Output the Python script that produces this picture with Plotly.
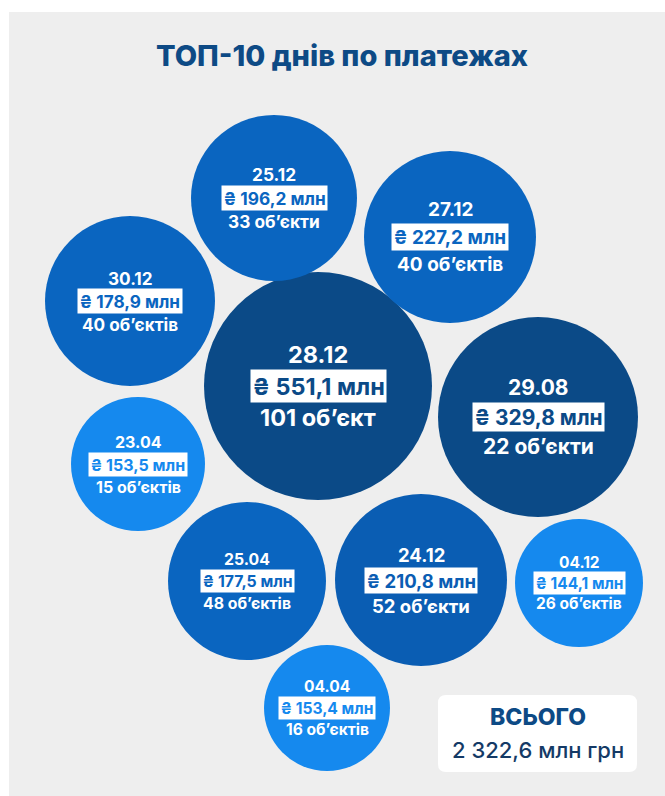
import plotly.graph_objects as go

# ---- data ----
dates = ["28.12", "29.08", "27.12", "25.12", "24.12", "30.12", "25.04", "23.04", "04.04", "04.12"]
amounts = [551.1, 329.8, 227.2, 196.2, 210.8, 178.9, 177.5, 153.5, 153.4, 144.1]
objects = [101, 22, 40, 33, 52, 40, 48, 15, 16, 26]
total_amount = 2322.6
title_text = "ТОП-10 днів по платежах"

# ---- layout of the packed bubbles (pixel-like units) ----
cx = [318, 538, 450, 274, 421, 130, 247, 138, 327, 579]
cy = [386, 417, 237, 198, 580, 301, 581, 464, 708, 583]
radius = [114, 100, 86, 83, 86, 85, 79, 67, 63, 64]
fsize = [23.5, 21, 19, 17.3, 18.5, 17.2, 15.8, 16, 15.6, 15.5]
gaps = [31.5, 29.5, 27.5, 23.5, 25.5, 23, 22, 22.5, 21.5, 20.5]
DARK, MID, MID2, LIGHT = "#0b4a87", "#0a65c0", "#0a5db3", "#1589ee"
colors = [DARK, DARK, MID, MID, MID2, MID, MID, LIGHT, LIGHT, LIGHT]

W, H = 665, 796
FONT = "Inter"
NAVY = "#0d4a85"


def obj_word(n):
    if n % 10 == 1 and n % 100 != 11:
        return "об’єкт"
    if n % 10 in (2, 3, 4) and n % 100 not in (12, 13, 14):
        return "об’єкти"
    return "об’єктів"


def fmt(v):
    return f"{v:.1f}".replace(".", ",")


fig = go.Figure()
fig.add_trace(go.Scatter(
    x=cx, y=cy, mode="markers",
    marker=dict(size=[2 * r for r in radius], sizemode="diameter",
                color=colors, opacity=1, line=dict(width=0)),
    hoverinfo="skip", showlegend=False,
))

annotations = []
for d, a, n, x, y, fs, gap, c in zip(dates, amounts, objects, cx, cy, fsize, gaps, colors):
    annotations.append(dict(x=x, y=y - gap, text=d, showarrow=False,
                            font=dict(family=FONT, size=fs, color="white", weight=700),
                            xanchor="center", yanchor="middle"))
    annotations.append(dict(x=x, y=y, text=f"₴ {fmt(a)} млн", showarrow=False,
                            font=dict(family=FONT, size=fs, color=c, weight=700),
                            bgcolor="white", borderpad=1.5,
                            xanchor="center", yanchor="middle"))
    annotations.append(dict(x=x, y=y + gap, text=f"{n} {obj_word(n)}", showarrow=False,
                            font=dict(family=FONT, size=fs, color="white", weight=700),
                            xanchor="center", yanchor="middle"))

# total box
bx0, bx1, by0, by1, rr = 438, 637, 695, 772, 8
path = (f"M {bx0+rr},{by0} L {bx1-rr},{by0} Q {bx1},{by0} {bx1},{by0+rr} "
        f"L {bx1},{by1-rr} Q {bx1},{by1} {bx1-rr},{by1} L {bx0+rr},{by1} "
        f"Q {bx0},{by1} {bx0},{by1-rr} L {bx0},{by0+rr} Q {bx0},{by0} {bx0+rr},{by0} Z")
bxc = (bx0 + bx1) / 2
annotations.append(dict(x=bxc, y=717, text="ВСЬОГО", showarrow=False,
                        font=dict(family=FONT, size=23, color=NAVY, weight=800),
                        xanchor="center", yanchor="middle"))
total_str = f"{total_amount:,.1f}".replace(",", " ").replace(".", ",")
annotations.append(dict(x=bxc, y=750, text=f"{total_str} млн грн", showarrow=False,
                        font=dict(family=FONT, size=22, color="#143a66", weight=500),
                        xanchor="center", yanchor="middle"))
annotations.append(dict(x=342, y=55, text=title_text, showarrow=False,
                        font=dict(family=FONT, size=29, color=NAVY, weight=800),
                        xanchor="center", yanchor="middle"))

shapes = [
    dict(type="rect", xref="paper", yref="paper", x0=9 / W, x1=1, y0=0, y1=1 - 12 / H,
         fillcolor="#eeeeee", line=dict(width=0), layer="below"),
    dict(type="path", path=path, xref="x", yref="y", fillcolor="white",
         line=dict(width=0), layer="below"),
]

fig.update_layout(
    width=W, height=H, margin=dict(l=0, r=0, t=0, b=0),
    paper_bgcolor="white", plot_bgcolor="rgba(0,0,0,0)",
    xaxis=dict(range=[0, W], visible=False, fixedrange=True),
    yaxis=dict(range=[H, 0], visible=False, fixedrange=True),
    annotations=annotations, shapes=shapes,
)

fig.write_html("out.html", config={"displayModeBar": False})
